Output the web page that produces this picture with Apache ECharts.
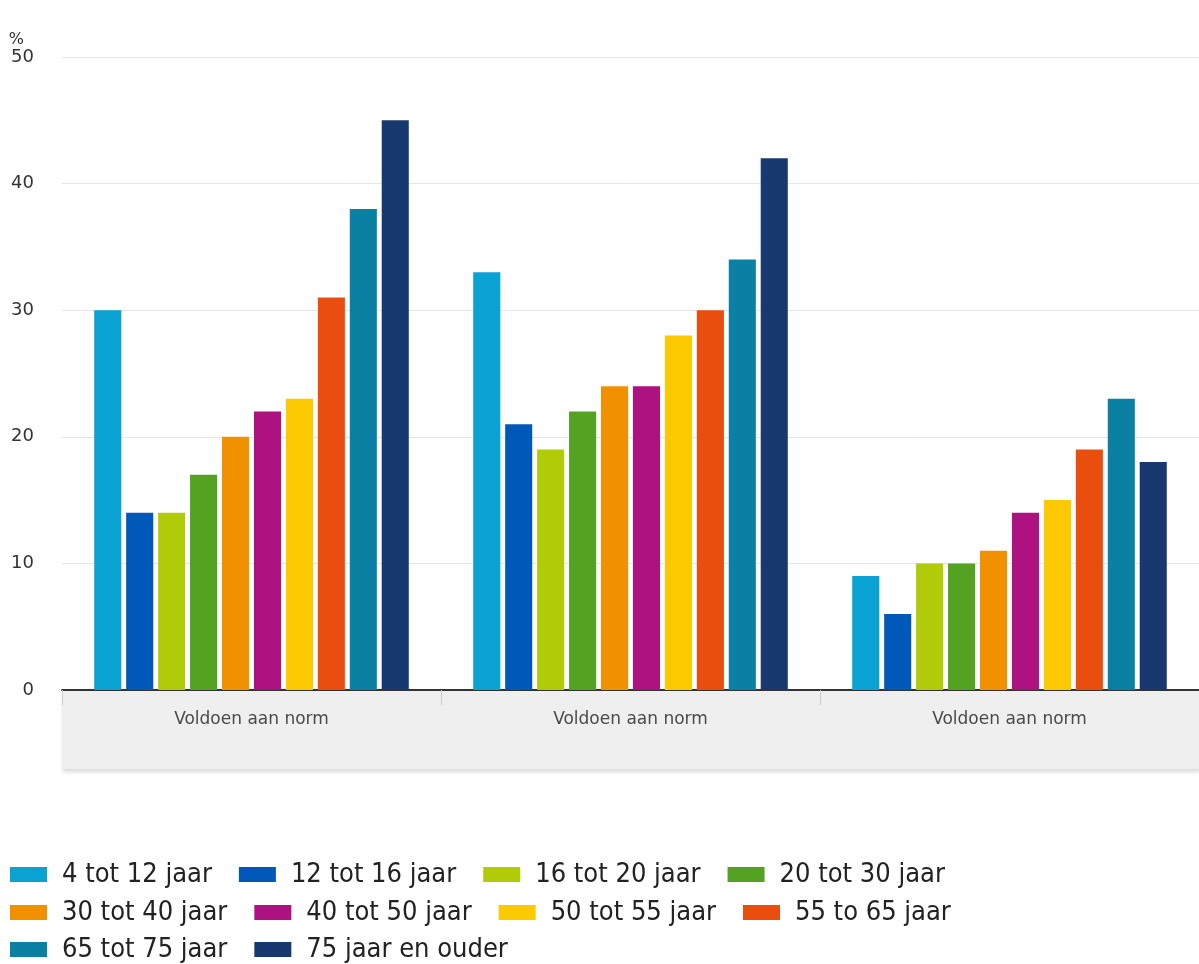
<!DOCTYPE html>
<html>
<head>
<meta charset="utf-8">
<script src="https://cdn.jsdelivr.net/npm/echarts@6/dist/echarts.min.js"></script>
<style>
  html, body { margin: 0; padding: 0; background: #fff; }
  #chart { width: 1199px; height: 964px; }
</style>
</head>
<body>
<div id="chart"></div>
<script>
const categories = ['Voldoen aan norm', 'Voldoen aan norm', 'Voldoen aan norm'];
const seriesNames = [
  '4 tot 12 jaar', '12 tot 16 jaar', '16 tot 20 jaar', '20 tot 30 jaar',
  '30 tot 40 jaar', '40 tot 50 jaar', '50 tot 55 jaar', '55 to 65 jaar',
  '65 tot 75 jaar', '75 jaar en ouder'
];
const age4to12 = [30, 33, 9];
const age12to16 = [14, 21, 6];
const age16to20 = [14, 19, 10];
const age20to30 = [17, 22, 10];
const age30to40 = [20, 24, 11];
const age40to50 = [22, 24, 14];
const age50to55 = [23, 28, 15];
const age55to65 = [31, 30, 19];
const age65to75 = [38, 34, 23];
const age75plus = [45, 42, 18];
const yTicks = [0, 10, 20, 30, 40, 50];

const seriesValues = [
  age4to12, age12to16, age16to20, age20to30, age30to40,
  age40to50, age50to55, age55to65, age65to75, age75plus
];
const colors = [
  '#0aa2d3', '#0058b9', '#b2cb08', '#53a221', '#f29100',
  '#ae1180', '#fdc900', '#e94e0f', '#0a80a2', '#17396f'
];

const chart = echarts.init(document.getElementById('chart'), null, { renderer: 'canvas' });

const legendText = {
  fontFamily: 'DejaVu Sans Condensed',
  fontSize: 27,
  color: '#222',
  padding: [0, 0, 0, 10]
};
function makeLegend(names, top) {
  return {
    data: names,
    left: 5,
    top: top,
    itemWidth: 37,
    itemHeight: 15,
    itemGap: 27,
    icon: 'rect',
    selectedMode: false,
    textStyle: legendText
  };
}

chart.setOption({
  animation: false,
  color: colors,
  textStyle: { fontFamily: 'DejaVu Sans' },
  grid: { left: 62, right: 0, top: 57, bottom: 274 },
  graphic: [
    {
      type: 'rect',
      z: -1,
      shape: { x: 62, y: 691, width: 1137, height: 78 },
      style: {
        fill: '#efefef',
        shadowBlur: 4,
        shadowOffsetX: 1,
        shadowOffsetY: 3,
        shadowColor: 'rgba(0,0,0,0.15)'
      }
    }
  ],
  legend: [
    makeLegend(seriesNames.slice(0, 4), 856),
    makeLegend(seriesNames.slice(4, 8), 894),
    makeLegend(seriesNames.slice(8), 931)
  ],
  xAxis: {
    type: 'category',
    data: categories,
    axisLine: { lineStyle: { color: '#333', width: 2 } },
    axisTick: { show: true, length: 15, lineStyle: { color: '#cccccc' } },
    axisLabel: { color: '#4a4a4a', fontSize: 17, margin: 21 }
  },
  yAxis: {
    type: 'value',
    min: 0,
    max: 50,
    interval: 10,
    name: '%',
    nameLocation: 'end',
    nameGap: 6,
    nameTextStyle: { color: '#333', fontSize: 16, align: 'right', padding: [0, 38, 0, 0] },
    axisLine: { show: false },
    axisTick: { show: false },
    axisLabel: {
      color: '#333',
      fontSize: 18,
      margin: 28,
      formatter: (v) => (yTicks.includes(v) ? String(v) : '')
    },
    splitLine: { lineStyle: { color: '#e6e6e6', width: 1 } }
  },
  series: seriesNames.map((name, i) => ({
    name: name,
    type: 'bar',
    data: seriesValues[i],
    barGap: '18%',
    barCategoryGap: '17%',
    itemStyle: { color: colors[i] }
  }))
});
</script>
</body>
</html>
